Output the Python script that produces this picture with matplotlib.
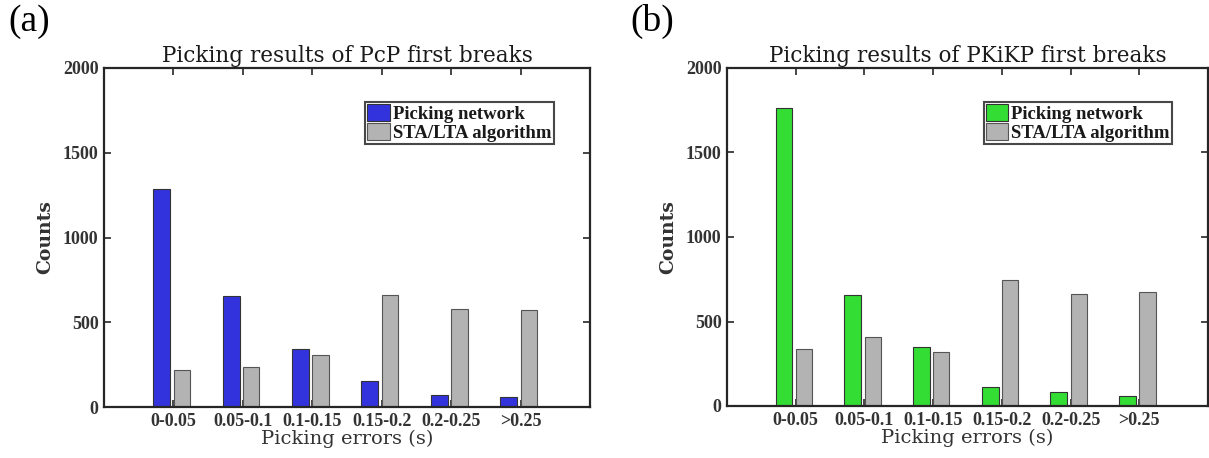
import numpy as np
import matplotlib
matplotlib.use("Agg")
import matplotlib.pyplot as plt

# Values
categories = ["0-0.05", "0.05-0.1", "0.1-0.15", "0.15-0.2", "0.2-0.25", ">0.25"]
pcp_network = [1288, 655, 342, 153, 73, 57]
pcp_stalta = [220, 236, 309, 659, 576, 570]
pkikp_network = [1763, 655, 347, 115, 85, 61]
pkikp_stalta = [336, 407, 320, 744, 663, 677]

plt.rcParams["font.family"] = "Liberation Serif"

W, H = 1209, 458
fig = plt.figure(figsize=(W / 100, H / 100), dpi=100)

spine_col = "#262626"


def panel(rect, net, sta, net_color, title, letter, letter_xy):
    ax = fig.add_axes(rect)
    x = np.arange(1, len(categories) + 1)
    ax.bar(x - 0.17, net, width=0.245, color=net_color, edgecolor="#333333",
           linewidth=0.8, label="Picking network", zorder=2)
    ax.bar(x + 0.12, sta, width=0.235, color="#b3b3b3", edgecolor="#555555",
           linewidth=0.8, label="STA/LTA algorithm", zorder=2)
    ax.set_xlim(0, 7)
    ax.set_ylim(0, 2000)
    ax.set_xticks(x)
    ax.set_xticklabels(categories, fontweight="bold", fontsize=13, color="#333333")
    ax.set_yticks([0, 500, 1000, 1500, 2000])
    ax.set_yticklabels(["0", "500", "1000", "1500", "2000"], fontweight="bold",
                       fontsize=13, color="#333333")
    ax.tick_params(direction="in", top=True, right=True, length=5, width=1.2,
                   color=spine_col, pad=4)
    for s in ax.spines.values():
        s.set_linewidth(1.6)
        s.set_color(spine_col)
    ax.set_title(title, fontsize=15.5, family="DejaVu Serif", color="#1a1a1a", pad=4)
    ax.set_xlabel("Picking errors (s)", fontsize=14, family="DejaVu Serif",
                  color="#333333", labelpad=0)
    ax.set_ylabel("Counts", fontsize=13.5, fontweight="bold", family="DejaVu Serif",
                  color="#333333", labelpad=6)
    leg = ax.legend(loc="upper right", bbox_to_anchor=(0.925, 0.9), frameon=True,
                    fancybox=False, edgecolor="#1a1a1a", borderpad=0.12,
                    handlelength=1.2, handleheight=1.0, handletextpad=0.15,
                    labelspacing=0.0, borderaxespad=0,
                    prop={"weight": "bold", "size": 13.5})
    leg.get_frame().set_linewidth(1.5)
    for t in leg.get_texts():
        t.set_color("#1a1a1a")
    fig.text(letter_xy[0], letter_xy[1], letter, fontsize=27,
             family="Liberation Serif", ha="left", va="top")
    return ax


panel([104 / W, 1 - 407 / H, (590 - 104) / W, (407 - 68) / H],
      pcp_network, pcp_stalta, "#3333dd",
      "Picking results of PcP first breaks", "(a)", (8 / W, 1 - 4 / H))
panel([727 / W, 1 - 406 / H, (1208 - 727) / W, (406 - 68) / H],
      pkikp_network, pkikp_stalta, "#33dd33",
      "Picking results of PKiKP first breaks", "(b)", (630 / W, 1 - 4 / H))

fig.savefig("out.png", dpi=100)
